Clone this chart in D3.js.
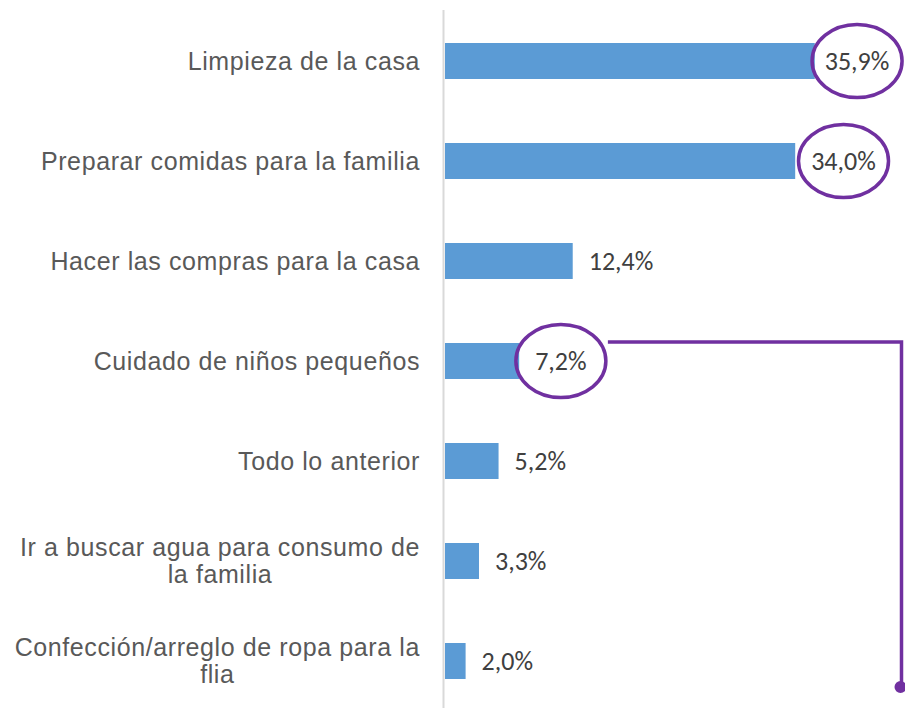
<!DOCTYPE html>
<html>
<head>
<meta charset="utf-8">
<script src="https://cdn.jsdelivr.net/npm/d3@7"></script>
<style>
  html, body { margin: 0; padding: 0; background: #ffffff; }
  svg { display: block; }
</style>
</head>
<body>
<svg id="chart" width="905" height="708"></svg>
<script>
// Tareas del hogar: porcentaje de respuestas por tarea
const categories = [
  "Limpieza de la casa",
  "Preparar comidas para la familia",
  "Hacer las compras para la casa",
  "Cuidado de niños pequeños",
  "Todo lo anterior",
  "Ir a buscar agua para consumo de la familia",
  "Confección/arreglo de ropa para la flia"
];
const values = [35.9, 34.0, 12.4, 7.2, 5.2, 3.3, 2.0];
// tareas resaltadas con un óvalo
const highlighted = [
  "Limpieza de la casa",
  "Preparar comidas para la familia",
  "Cuidado de niños pequeños"
];

const svg = d3.select("#chart");
const W = 905, H = 708;

const x = d3.scaleLinear().domain([0, 40]).range([445, 857]);
const y = d3.scaleBand().domain(categories).range([11, 711])
  .paddingInner(0.64).paddingOuter(0.32);

const fmt = v => d3.format(".1f")(v).replace(".", ",") + "%";
const purple = "#7030a0";

// eje vertical
svg.append("line")
  .attr("x1", 443.5).attr("x2", 443.5)
  .attr("y1", 10).attr("y2", H)
  .attr("stroke", "#d9d9d9").attr("stroke-width", 2);

// barras
svg.selectAll("rect.bar").data(categories).join("rect")
  .attr("class", "bar")
  .attr("x", x(0))
  .attr("y", d => y(d))
  .attr("width", (d, i) => x(values[i]) - x(0))
  .attr("height", y.bandwidth())
  .attr("fill", "#5b9bd5");

// etiquetas de categoría (ajustadas a un ancho máximo, centradas por bloque)
const maxW = 416, lineH = 27, rightEdge = 420;
const catG = svg.append("g")
  .attr("font-family", "Arial, 'Liberation Sans', sans-serif")
  .attr("font-size", 25)
  .attr("letter-spacing", "0.6px")
  .attr("fill", "#595959");

categories.forEach(cat => {
  const t = catG.append("text").attr("text-anchor", "middle");
  const words = cat.split(" ");
  const lines = [];
  let cur = [];
  const probe = t.append("tspan");
  words.forEach(w => {
    const trial = cur.concat([w]).join(" ");
    probe.text(trial);
    if (probe.node().getComputedTextLength() > maxW && cur.length) {
      lines.push(cur.join(" "));
      cur = [w];
    } else {
      cur.push(w);
    }
  });
  lines.push(cur.join(" "));
  let widest = 0;
  lines.forEach(l => {
    probe.text(l);
    widest = Math.max(widest, probe.node().getComputedTextLength());
  });
  probe.remove();
  const cx = rightEdge - widest / 2;
  const cy = y(cat) + y.bandwidth() / 2;
  const top = cy - (lines.length - 1) * lineH / 2;
  lines.forEach((l, k) => {
    t.append("tspan")
      .attr("x", cx)
      .attr("y", top + k * lineH)
      .attr("dy", "0.35em")
      .text(l);
  });
});

// etiquetas de valor
const labelNudge = { 0: -6 };
const valG = svg.append("g")
  .attr("font-family", "Carlito, Calibri, 'Open Sans', sans-serif")
  .attr("font-size", 26)
  .attr("fill", "#404040");

const valText = valG.selectAll("text").data(categories).join("text")
  .attr("x", (d, i) => x(values[i]) + 16 + (labelNudge[i] || 0))
  .attr("y", d => y(d) + y.bandwidth() / 2)
  .attr("dy", "0.34em")
  .text((d, i) => fmt(values[i]));

// óvalos alrededor de los valores destacados
const ovals = [];
valText.each(function (d) {
  if (!highlighted.includes(d)) return;
  const b = this.getBBox();
  ovals.push({
    cx: b.x + b.width / 2,
    cy: y(d) + y.bandwidth() / 2,
    rx: 45, ry: 36.5
  });
});
svg.selectAll("ellipse").data(ovals).join("ellipse")
  .attr("cx", o => o.cx).attr("cy", o => o.cy)
  .attr("rx", o => o.rx).attr("ry", o => o.ry)
  .attr("fill", "none").attr("stroke", purple).attr("stroke-width", 3.5);

// conector desde el óvalo de "Cuidado de niños pequeños"
const o3 = ovals[2];
const lineY = o3.cy - 19;
const edgeX = 901.5;
const endY = y(categories[categories.length - 1]) + y.bandwidth() / 2 + 26;
svg.append("path")
  .attr("d", `M${o3.cx + o3.rx + 2},${lineY} H${edgeX} V${endY}`)
  .attr("fill", "none").attr("stroke", purple).attr("stroke-width", 3.5);
svg.append("circle")
  .attr("cx", edgeX - 1).attr("cy", endY)
  .attr("r", 6).attr("fill", purple);
</script>
</body>
</html>
